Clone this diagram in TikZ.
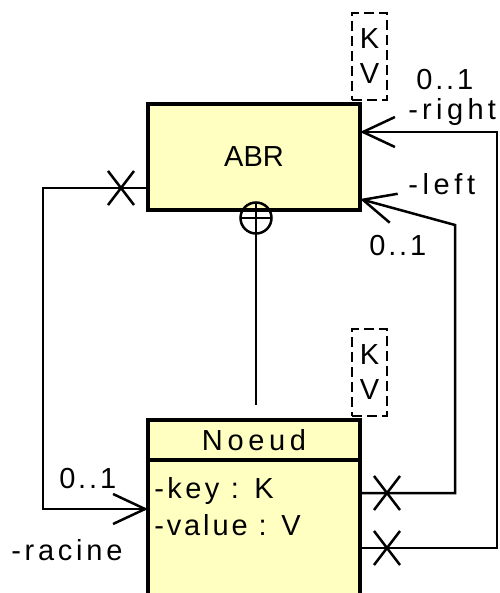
\documentclass[tikz,border=0pt]{standalone}
\usepackage{fontspec}
\setmainfont{Liberation Sans}
\newfontfamily\spcA[LetterSpace=10]{Liberation Sans}
\newfontfamily\spcB[LetterSpace=12]{Liberation Sans}
\newfontfamily\spcC[LetterSpace=13]{Liberation Sans}
\newfontfamily\spcD[LetterSpace=16]{Liberation Sans}
\newfontfamily\spcE[LetterSpace=15]{Liberation Sans}
\usetikzlibrary{arrows.meta,shapes.misc}
\definecolor{umlyellow}{RGB}{255,255,194}
\newcommand{\fs}{\fontsize{29}{35}\selectfont}
\begin{document}
\begin{tikzpicture}[x=1pt,y=-1pt,line width=2.5pt,
  cls/.style={draw, line width=4pt, fill=umlyellow, minimum width=212pt, inner sep=0pt, outer sep=0pt, anchor=north west},
  tparam/.style={draw, dash pattern=on 10pt off 5pt, line width=2.5pt, minimum width=35pt, minimum height=87pt, anchor=north west, align=center, inner sep=0pt, outer sep=0pt, font=\fs},
  xmark/.style={cross out, draw, line width=2.5pt, minimum width=26pt, minimum height=34pt, inner sep=0pt, outer sep=0pt},
  assoc/.style={line width=2.5pt, -{Straight Barb[length=32pt,width=30pt,line width=2.5pt]}},
  lbl/.style={anchor=base west, inner sep=0pt}
]
\useasboundingbox (0,0) rectangle (499,593);
% classes
\node[cls, minimum height=106pt, font=\fs] (abr) at (148,104) {ABR};
\node[cls, minimum height=145pt] (nb) at (148,460) {};
\node[cls, minimum height=40pt, font=\fs\spcD] (nh) at (148,420) {Noeud};
\node[lbl, font=\fs\spcB] (ka) at (153,498) {-key : K};
\node[lbl, font=\fs\spcA] (va) at (153,535) {-value : V};
% template parameters
\node[tparam] (tp1) at (352,13) {K\\V};
\node[tparam] (tp2) at (352,329) {K\\V};
% nesting
\node[circle, draw, minimum size=31pt, inner sep=0pt, outer sep=0pt, line width=2.5pt] (nest) at (256,218) {};
\coordinate (nend) at (256,405);
\draw (nest.west) -- (nest.east);
\draw (nest.north) -- (nend);
% cross marks
\node[xmark] (x1) at (121,188) {};
\node[xmark] (x2) at (387,493) {};
\node[xmark] (x3) at (387,548) {};
% racine
\coordinate (r1) at (43,188);
\coordinate (r2) at (43,509);
\draw[assoc] (x1 -| abr.west) -- (r1) -- (r2) -- (r2 -| nb.west);
% right
\coordinate (c1) at (497,548);
\coordinate (c2) at (497,132);
\draw[assoc] (c1 -| nb.east) -- (c1) -- (c2) -- (c2 -| abr.east);
% left
\coordinate (l1) at (455,493);
\coordinate (l2) at (455,225);
\draw[assoc] (l1 -| nb.east) -- (l1) -- (l2) -- ([yshift=-42pt]abr.east);
% labels
\node[lbl, font=\fs\spcA] (m1) at (415,90) {0..1};
\node[lbl, font=\fs\spcE] (rr) at (407,120) {-right};
\node[lbl, font=\fs\spcD] (ll) at (407,195) {-left};
\node[lbl, font=\fs\spcA] (m2) at (368,255) {0..1};
\node[lbl, font=\fs\spcA] (m3) at (58,488) {0..1};
\node[lbl, font=\fs\spcC] (rc) at (10,560) {-racine};
\end{tikzpicture}
\end{document}
